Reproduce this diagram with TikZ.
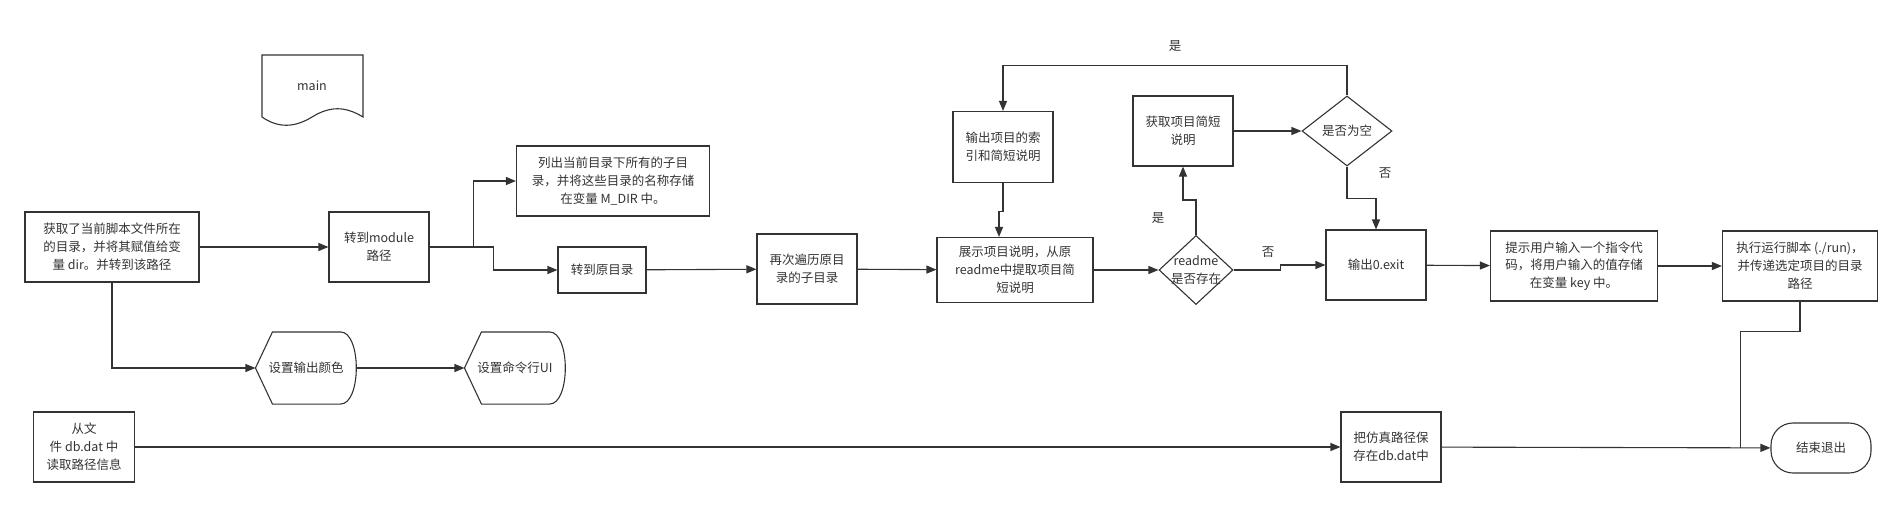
\documentclass[tikz,border=0pt]{standalone}
\usepackage{fontspec}
\setmainfont{Noto Sans CJK SC}
\usepackage{tikz}
\usetikzlibrary{arrows.meta}
\usetikzlibrary{shapes.geometric}
\definecolor{mgray}{HTML}{333333}
\tikzset{box/.style = {draw, rectangle, align = center, minimum width = 100, minimum height = 70, inner sep = 0}}
\tikzset{dec/.style = {draw, diamond, inner sep = 0}}
\tikzset{term/.style = {draw, rectangle, rounded corners = 22, minimum width = 100, minimum height = 50}}
\tikzset{shaped/.style = {rectangle, minimum width = 100, minimum height = 71, inner sep = 0}}
\tikzset{arr/.style = {-{Triangle[length = 10pt, width = 8pt]}}}

\begin{document}
\begin{tikzpicture}[x = 1pt, y = -1pt, line width = 1.1pt, mgray, font = \fontsize{12.5}{17.8}\selectfont]
      \useasboundingbox (0, 0) rectangle (1902, 507);

      % document shape
      \node (main) at (312, 86) {main};
      \draw (262, 117) -- (262, 55) -- (363, 55) -- (363, 117)
        .. controls (345, 106) and (330, 106) .. (312, 117)
        .. controls (294, 128) and (278, 128) .. (262, 117);

      % top row
      \node [box, minimum width = 174] (getdir) at (112, 247) {获取了当前脚本文件所在\\的目录，并将其赋值给变\\量 dir。并转到该路径};
      \node [box] (module) at (379, 247) {转到module\\路径};
      \node [box, minimum width = 193] (list) at (613, 181) {列出当前目录下所有的子目\\录，并将这些目录的名称存储\\在变量 M\_DIR 中。};
      \node [box, minimum width = 88, minimum height = 46] (goback) at (602, 270) {转到原目录};
      \node [box] (again) at (807, 269) {再次遍历原目\\录的子目录};
      \node [box, minimum width = 156, minimum height = 65] (show) at (1015, 270) {展示项目说明，从原\\readme中提取项目简\\短说明};
      \node [dec, minimum width = 74, minimum height = 69, label = {[align = center]center:readme\\是否存在}] (readme) at (1196, 270) {};
      \node [box, minimum height = 71] (idx) at (1003, 147) {输出项目的索\\引和简短说明};
      \node [box] (getdesc) at (1183, 131) {获取项目简短\\说明};
      \node [dec, minimum width = 90, minimum height = 70, label = {center:是否为空}] (empty) at (1347, 131) {};
      \node [box] (exit) at (1376, 265) {输出0.exit};
      \node [box, minimum width = 167] (prompt) at (1574, 266) {提示用户输入一个指令代\\码，将用户输入的值存储\\在变量 key 中。};
      \node [box, minimum width = 155] (run) at (1800, 266) {执行运行脚本 (./run)，\\并传递选定项目的目录\\路径};

      % lower rows
      \node [shaped] (color) at (306, 368) {设置输出颜色};
      \node [shaped] (cli) at (515, 368) {设置命令行UI};
      \foreach \n in {color, cli} {
        \draw (\n.west) -- ([xshift = 17]\n.north west) -- ([xshift = -16]\n.north east)
          .. controls ([xshift = 5]\n.north east) and ([xshift = 5]\n.south east) .. ([xshift = -16]\n.south east)
          -- ([xshift = 17]\n.south west) -- cycle;
      }
      \node [box, minimum width = 101] (readdb) at (84, 447) {从文\\件 db.dat 中\\读取路径信息};
      \node [box] (save) at (1391, 447) {把仿真路径保\\存在db.dat中};
      \node [term] (end) at (1821, 448) {结束退出};

      % labels
      \node (yes1) at (1175, 46) {是};
      \node (no1) at (1385, 173) {否};
      \node (no2) at (1268, 252) {否};
      \node (yes2) at (1158, 218) {是};

      % connectors
      \draw [arr] (getdir) -- (module);
      \draw [arr] (module.east) -- ++(44, 0) |- (list.west);
      \draw [arr] (module.east) -- ++(64, 0) |- (goback.west);
      \draw [arr] (goback) -- (again);
      \draw [arr] (again) -- (show);
      \draw [arr] (show) -- (readme);
      \draw [arr] (readme.north) -- ++(0, -35) -| (getdesc.south);
      \draw [arr] (getdesc) -- (empty);
      \draw [arr] (empty.north) -- ++(0, -30) -| (idx.north);
      \draw [arr] (idx.south) -- ++(0, 28) -| ([xshift = -16]show.north);
      \draw [arr] (empty.south) -- ++(0, 32) -| (exit.north);
      \draw [arr] (readme.east) -- ++(47, 0) |- (exit.west);
      \draw [arr] (exit) -- (prompt);
      \draw [arr] (prompt) -- (run);
      \draw (run.south) -- ++(0, 30) -| ([xshift = -30]end.west);
      \draw [arr] (getdir.south) |- (color.west);
      \draw [arr] (color) -- (cli);
      \draw [arr] (readdb) -- (save);
      \draw [arr] (save) -- (end);
    \end{tikzpicture}
\end{document}
